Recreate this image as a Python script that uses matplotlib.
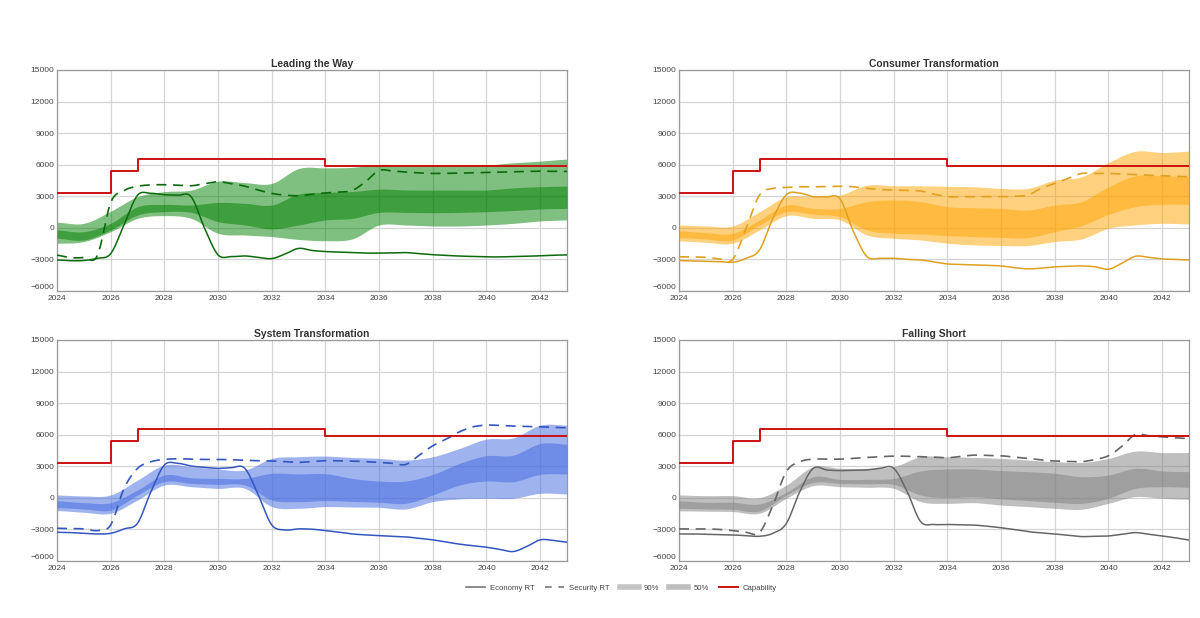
import numpy as np
import matplotlib
matplotlib.use("Agg")
import matplotlib.pyplot as plt
import matplotlib.transforms as mtransforms
from matplotlib.lines import Line2D

plt.rcParams['font.family'] = ['Liberation Sans', 'DejaVu Sans']

# ---------------- data ----------------
years = list(range(2024, 2044))                    # band / capability grid
half_years = [2024 + 0.5 * i for i in range(39)]   # line grid
xtick_years = [2024, 2026, 2028, 2030, 2032, 2034, 2036, 2038, 2040, 2042]
ytick_vals = [-6000, -3000, 0, 3000, 6000, 9000, 12000, 15000]

capability = [3300, 3300, 5400, 6500, 6500, 6500, 6500, 6500, 6500, 6500,
              5900, 5900, 5900, 5900, 5900, 5900, 5900, 5900, 5900, 5900]

titles = ["Leading the Way", "Consumer Transformation",
          "System Transformation", "Falling Short"]

# Leading the Way
lw_econ = [-3050, -3120, -3100, -2900, -2450, 300, 3100, 3280, 3150, 3100,
           2950, -40, -2570, -2730, -2670, -2800, -2920, -2480, -1950, -2150,
           -2250, -2300, -2350, -2400, -2400, -2380, -2350, -2450, -2550, -2620,
           -2680, -2720, -2760, -2760, -2730, -2700, -2650, -2600, -2570]
lw_sec = [-2600, -2830, -2820, -2650, 2400, 3550, 3950, 4080, 4100, 4050,
          4000, 4200, 4380, 4200, 3960, 3590, 3270, 3110, 3050, 3200,
          3320, 3400, 3550, 4400, 5450, 5400, 5300, 5220, 5170, 5180,
          5200, 5230, 5260, 5300, 5330, 5370, 5390, 5370, 5360]
lw_p90_hi = [530, 430, 1580, 2960, 3440, 3590, 4440, 4300, 4220, 5640,
             5700, 5750, 6020, 5980, 5960, 5960, 5980, 6180, 6340, 6530]
lw_p90_lo = [-1460, -1300, -360, 900, 1160, 900, -520, -680, -830, -1100,
             -1220, -1050, 270, 270, 180, 180, 270, 430, 650, 750]
lw_p50_hi = [-200, -360, 430, 2010, 2230, 2170, 2420, 2330, 2170, 3210,
             3370, 3450, 3680, 3600, 3590, 3590, 3600, 3800, 3910, 3970]
lw_p50_lo = [-990, -1150, -200, 1220, 1540, 1470, 590, 270, -100, 270,
             750, 900, 1470, 1470, 1440, 1470, 1540, 1650, 1790, 1850]

# Consumer Transformation
ct_econ = [-3110, -3140, -3170, -3200, -3270, -2890, -2100, 900, 3150, 3300,
           2960, 2950, 2750, -360, -2730, -2890, -2890, -3000, -3050, -3250,
           -3430, -3480, -3520, -3560, -3620, -3780, -3900, -3830, -3710, -3650,
           -3620, -3700, -3930, -3360, -2700, -2800, -2950, -3000, -3050]
ct_sec = [-2750, -2770, -2800, -2950, -3000, -40, 3120, 3750, 3840, 3900,
          3900, 3930, 3960, 3900, 3750, 3650, 3590, 3560, 3500, 3200,
          2960, 2960, 2960, 2960, 2960, 3000, 3120, 3750, 4220, 4700,
          5170, 5170, 5170, 5120, 5070, 5000, 4950, 4900, 4850]
ct_p90_hi = [275, 180, 180, 1540, 2960, 2960, 3120, 4060, 4000, 4000,
             3950, 3900, 3750, 3750, 4540, 4850, 6210, 7280, 7160, 7280]
ct_p90_lo = [-1240, -1370, -1460, -200, 1160, 900, 750, -680, -990, -1150,
             -1460, -1620, -1680, -1680, -1300, -1050, -40, 275, 430, 370]
ct_p50_hi = [-290, -450, -520, 750, 2170, 1850, 1850, 2490, 2650, 2490,
             2010, 1910, 1850, 1690, 2170, 2490, 3900, 4950, 4950, 4850]
ct_p50_lo = [-930, -1050, -1150, 270, 1540, 1280, 1060, -200, -520, -580,
             -740, -830, -900, -930, -360, 210, 1280, 2010, 2230, 2230]

# System Transformation
st_econ = [-3270, -3300, -3370, -3430, -3370, -2950, -2410, 590, 3120, 3280,
           3020, 2900, 2800, 2870, 2800, 270, -2570, -3050, -2950, -2980,
           -3110, -3250, -3430, -3520, -3590, -3650, -3710, -3850, -3990, -4200,
           -4400, -4550, -4690, -4900, -5100, -4620, -3990, -4050, -4210]
st_sec = [-2890, -2920, -2950, -3110, -2570, 900, 2800, 3430, 3650, 3710,
          3680, 3650, 3650, 3620, 3560, 3530, 3500, 3440, 3370, 3450,
          3530, 3520, 3500, 3440, 3370, 3280, 3180, 4060, 4950, 5580,
          6280, 6750, 6910, 6880, 6820, 6780, 6750, 6700, 6660]
st_p90_hi = [275, 180, 275, 1690, 3120, 2960, 2740, 2650, 3750, 3910,
             3970, 3840, 3750, 3590, 3910, 4700, 5580, 5700, 6910, 6910]
st_p90_lo = [-1210, -1370, -1460, -200, 1220, 1060, 900, 900, -830, -990,
             -830, -870, -900, -1050, -360, -100, -40, -40, 430, 370]
st_p50_hi = [-290, -450, -450, 750, 2170, 1910, 1850, 1850, 2330, 2270,
             2300, 1850, 1600, 1600, 2230, 3280, 4000, 4060, 5170, 5110]
st_p50_lo = [-930, -1050, -1150, 270, 1540, 1380, 1280, 1220, -200, -360,
             -260, -340, -420, -520, 270, 1220, 1600, 1540, 2230, 2270]

# Falling Short
fs_econ = [-3430, -3430, -3460, -3490, -3520, -3590, -3650, -3370, -2430, 590,
           2800, 2650, 2590, 2620, 2650, 2810, 2810, 590, -2250, -2530,
           -2530, -2560, -2590, -2700, -2840, -3020, -3210, -3330, -3430, -3560,
           -3680, -3650, -3620, -3460, -3300, -3460, -3620, -3800, -4000]
fs_sec = [-2950, -2950, -2950, -3000, -3110, -3270, -3300, -700, 2500, 3430,
          3680, 3680, 3680, 3750, 3840, 3900, 3970, 3950, 3910, 3880,
          3810, 3950, 4060, 4030, 4000, 3870, 3750, 3600, 3500, 3470,
          3440, 3650, 4000, 4900, 6020, 5900, 5800, 5700, 5640]
fs_p90_hi = [275, 210, 210, 20, 1220, 2960, 2810, 2810, 2970, 3910,
             3910, 3840, 3750, 3590, 3440, 3370, 3750, 4440, 4310, 4310]
fs_p90_lo = [-1240, -1270, -1300, -1460, -40, 1160, 1060, 1000, 900, -360,
             -520, -460, -680, -830, -990, -1080, -520, 115, -40, -135]
fs_p50_hi = [-290, -420, -420, -580, 530, 2010, 1760, 1760, 1850, 2560,
             2740, 2740, 2590, 2490, 2330, 2010, 2170, 2810, 2560, 2490]
fs_p50_lo = [-990, -1050, -1080, -1240, 270, 1470, 1380, 1330, 1280, 270,
             20, 110, -100, -260, -420, -520, -40, 900, 1060, 1000]

panels = [
    (lw_econ, lw_sec, lw_p90_lo, lw_p90_hi, lw_p50_lo, lw_p50_hi),
    (ct_econ, ct_sec, ct_p90_lo, ct_p90_hi, ct_p50_lo, ct_p50_hi),
    (st_econ, st_sec, st_p90_lo, st_p90_hi, st_p50_lo, st_p50_hi),
    (fs_econ, fs_sec, fs_p90_lo, fs_p90_hi, fs_p50_lo, fs_p50_hi),
]

band_colors = ["#008000", "#ffa500", "#4169e1", "#808080"]
line_colors = ["#0b6b0b", "#e0a020", "#3456c0", "#666666"]
cap_color = "#cc1010"


def smooth(x, y, n=16):
    """Catmull-Rom style curve through the data points (rendering only)."""
    x = np.asarray(x, float)
    y = np.asarray(y, float)
    yp = np.concatenate([[y[0]], y, [y[-1]]])
    t = np.linspace(0, 1, n, endpoint=False)
    h00 = 2 * t**3 - 3 * t**2 + 1
    h10 = t**3 - 2 * t**2 + t
    h01 = -2 * t**3 + 3 * t**2
    h11 = t**3 - t**2
    xs, ys = [], []
    for i in range(len(x) - 1):
        p0, p1, p2, p3 = yp[i], yp[i + 1], yp[i + 2], yp[i + 3]
        m1 = (p2 - p0) / 2.0
        m2 = (p3 - p1) / 2.0
        xs.append(x[i] + t * (x[i + 1] - x[i]))
        ys.append(h00 * p1 + h10 * m1 + h01 * p2 + h11 * m2)
    xs.append([x[-1]])
    ys.append([y[-1]])
    return np.concatenate(xs), np.concatenate(ys)


fig = plt.figure(figsize=(12, 6.18), dpi=100)

positions = [
    (57 / 1200, 1 - 291 / 618, 510 / 1200, 221 / 618),
    (679 / 1200, 1 - 291 / 618, 510 / 1200, 221 / 618),
    (57 / 1200, 1 - 561 / 618, 510 / 1200, 221 / 618),
    (679 / 1200, 1 - 561 / 618, 510 / 1200, 221 / 618),
]

for k, (title, data) in enumerate(zip(titles, panels)):
    econ, sec, p90lo, p90hi, p50lo, p50hi = data
    ax = fig.add_axes(positions[k])
    ax.set_axisbelow(True)
    ax.grid(True, color="#d4d4d4", lw=0.9)

    bx, b90lo = smooth(years, p90lo)
    _, b90hi = smooth(years, p90hi)
    _, b50lo = smooth(years, p50lo)
    _, b50hi = smooth(years, p50hi)
    ax.fill_between(bx, b90lo, b90hi, color=band_colors[k], alpha=0.5, lw=0, zorder=2)
    ax.fill_between(bx, b50lo, b50hi, color=band_colors[k], alpha=0.5, lw=0, zorder=3)

    ex, ey = smooth(half_years, econ)
    sx, sy = smooth(half_years, sec)
    ax.plot(ex, ey, color=line_colors[k], lw=1.1, zorder=4)
    ax.plot(sx, sy, color=line_colors[k], lw=1.2, dashes=(6, 4), zorder=4)

    ax.step(years, capability, where="post", color=cap_color, lw=1.4, zorder=5)

    ax.set_xlim(2024, 2043)
    ax.set_ylim(-6000, 15000)
    ax.set_xticks(xtick_years)
    ax.set_xticklabels([str(v) for v in xtick_years])
    ax.set_yticks(ytick_vals)
    ax.set_yticklabels([str(v).replace("-", "\u2212") for v in ytick_vals])
    ax.tick_params(axis="both", length=0, labelsize=6, colors="#444444")
    ax.tick_params(axis="y", pad=2)
    ax.tick_params(axis="x", pad=3)
    # lift the lowest y label slightly so it clears the first year label
    lab0 = ax.get_yticklabels()[0]
    lab0.set_transform(lab0.get_transform() +
                       mtransforms.ScaledTranslation(0, 3 / 72, fig.dpi_scale_trans))
    for sp in ax.spines.values():
        sp.set_color("#999999")
        sp.set_linewidth(0.9)
    ax.set_title(title, fontsize=7.5, fontweight="bold", color="#333333", pad=2)

handles = [
    Line2D([], [], color="#777777", lw=1.2),
    Line2D([], [], color="#777777", lw=1.2, dashes=(4, 4)),
    Line2D([], [], color="#c4c4c4", lw=4),
    Line2D([], [], color="#bdbdbd", lw=4),
    Line2D([], [], color=cap_color, lw=1.4),
]
labels = ["Economy RT", "Security RT", "90%", "50%", "Capability"]
fig.legend(handles, labels, loc="center", bbox_to_anchor=(0.518, 0.048),
           ncol=5, frameon=False, fontsize=5.6, handlelength=2.4,
           columnspacing=1.3, handletextpad=0.7, labelcolor="#444444")

fig.savefig("out.png", dpi=100)
